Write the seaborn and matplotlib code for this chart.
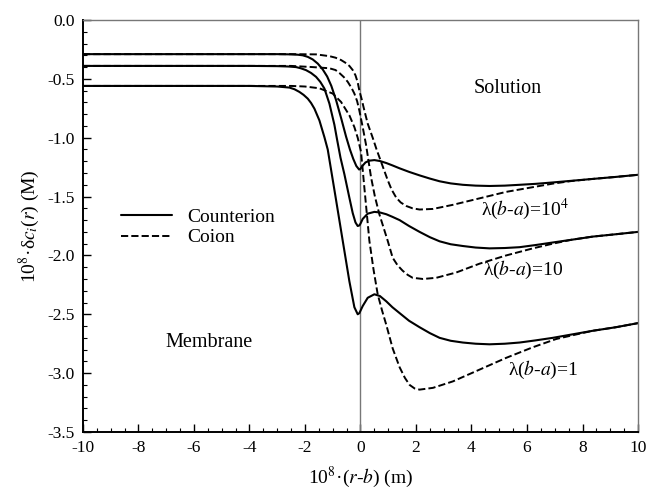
import matplotlib
matplotlib.use("Agg")
import matplotlib.pyplot as plt
from matplotlib.lines import Line2D
from matplotlib.ticker import MultipleLocator, FormatStrFormatter
import seaborn as sns

# counterion (solid) curves
cnt_1e4_x = [-10, -6, -4, -3, -2.5, -2.25, -2.08, -1.9, -1.72, -1.54, -1.36, -1.2, -1.05,
             -0.88, -0.69, -0.52, -0.38, -0.26, -0.15, -0.05, 0.0, 0.05, 0.18, 0.32, 0.5,
             0.7, 0.93, 1.15, 1.41, 1.75, 2.13, 2.5, 2.85, 3.25, 3.69, 4.15, 4.65, 5.2,
             5.73, 6.3, 6.93, 7.6, 8.37, 9.2, 10]
cnt_1e4_y = [-0.29, -0.29, -0.29, -0.29, -0.292, -0.295, -0.30, -0.313, -0.335, -0.37,
             -0.42, -0.48, -0.56, -0.68, -0.84, -0.99, -1.10, -1.18, -1.24, -1.27, -1.265,
             -1.245, -1.21, -1.195, -1.19, -1.198, -1.215, -1.235, -1.26, -1.29, -1.32,
             -1.347, -1.37, -1.388, -1.40, -1.407, -1.41, -1.407, -1.40, -1.392, -1.38,
             -1.366, -1.35, -1.333, -1.315]

cnt_10_x = [-10, -6, -4, -3, -2.6, -2.32, -2.15, -1.96, -1.78, -1.60, -1.45, -1.30, -1.12,
            -0.94, -0.84, -0.72, -0.58, -0.40, -0.28, -0.18, -0.10, -0.04, 0.0, 0.08, 0.26,
            0.5, 0.7, 0.93, 1.15, 1.41, 1.75, 2.13, 2.5, 2.85, 3.25, 3.69, 4.15, 4.65, 5.2,
            5.73, 6.3, 6.93, 7.6, 8.37, 9.2, 10]
cnt_10_y = [-0.39, -0.39, -0.39, -0.392, -0.395, -0.40, -0.41, -0.426, -0.45, -0.483,
            -0.525, -0.582, -0.71, -0.89, -1.02, -1.17, -1.31, -1.51, -1.64, -1.72, -1.75,
            -1.745, -1.73, -1.69, -1.645, -1.63, -1.635, -1.65, -1.672, -1.70, -1.75, -1.80,
            -1.845, -1.88, -1.905, -1.92, -1.933, -1.94, -1.937, -1.93, -1.912, -1.89,
            -1.867, -1.84, -1.82, -1.80]

cnt_1_x = [-10, -6, -4, -3, -2.56, -2.38, -2.20, -2.05, -1.90, -1.78, -1.66, -1.48, -1.30,
           -1.18, -0.90, -0.64, -0.40, -0.22, -0.10, -0.04, 0.0, 0.08, 0.26, 0.5, 0.7,
           0.93, 1.15, 1.41, 1.75, 2.13, 2.5, 2.85, 3.25, 3.69, 4.15, 4.65, 5.2, 5.73, 6.3,
           6.93, 7.6, 8.37, 9.2, 10]
cnt_1_y = [-0.56, -0.56, -0.56, -0.565, -0.574, -0.588, -0.611, -0.636, -0.668, -0.705,
           -0.753, -0.853, -0.995, -1.10, -1.50, -1.875, -2.22, -2.44, -2.50, -2.49, -2.47,
           -2.43, -2.36, -2.33, -2.345, -2.39, -2.44, -2.49, -2.555, -2.61, -2.66, -2.70,
           -2.725, -2.74, -2.75, -2.755, -2.75, -2.74, -2.722, -2.70, -2.672, -2.64, -2.61,
           -2.575]

# coion (dashed) curves
coi_1e4_x = [-10, -6, -4, -2.5, -1.6, -1.12, -0.90, -0.70, -0.55, -0.40, -0.28, -0.18,
             -0.10, -0.04, 0.04, 0.11, 0.26, 0.44, 0.58, 0.75, 0.98, 1.12, 1.29, 1.45,
             1.65, 1.88, 2.13, 2.61, 3.33, 4.29, 5.25, 6.21, 6.93, 7.6, 8.37, 9.2, 10]
coi_1e4_y = [-0.29, -0.29, -0.29, -0.29, -0.292, -0.307, -0.32, -0.34, -0.362, -0.39,
             -0.425, -0.47, -0.53, -0.60, -0.67, -0.74, -0.88, -1.00, -1.10, -1.21, -1.36,
             -1.44, -1.51, -1.55, -1.58, -1.60, -1.61, -1.605, -1.57, -1.515, -1.46, -1.42,
             -1.39, -1.368, -1.35, -1.333, -1.315]

coi_10_x = [-10, -6, -4, -2.5, -1.72, -1.12, -0.90, -0.76, -0.60, -0.46, -0.32, -0.22,
            -0.12, -0.04, 0.08, 0.2, 0.38, 0.52, 0.68, 0.98, 1.16, 1.34, 1.52, 1.70, 1.88,
            2.25, 2.73, 3.45, 4.29, 5.25, 6.21, 6.93, 7.6, 8.37, 9.2, 10]
coi_10_y = [-0.39, -0.39, -0.39, -0.39, -0.40, -0.41, -0.425, -0.45, -0.485, -0.525,
            -0.578, -0.625, -0.69, -0.77, -0.91, -1.06, -1.335, -1.50, -1.65, -1.875,
            -2.02, -2.085, -2.13, -2.165, -2.19, -2.20, -2.19, -2.145, -2.07, -2.00, -1.94,
            -1.90, -1.867, -1.84, -1.82, -1.80]

coi_1_x = [-10, -6, -4, -2.5, -2.0, -1.48, -1.0, -0.70, -0.40, -0.22, -0.10, 0.02, 0.15,
           0.32, 0.47, 0.62, 0.78, 0.93, 1.16, 1.41, 1.60, 1.77, 1.95, 2.13, 2.61, 3.33,
           4.29, 5.25, 6.21, 7.05, 7.89, 8.37, 9.2, 10]
coi_1_y = [-0.56, -0.56, -0.56, -0.56, -0.565, -0.58, -0.625, -0.696, -0.81, -0.91, -1.00,
           -1.12, -1.45, -1.875, -2.12, -2.33, -2.47, -2.59, -2.79, -2.95, -3.04, -3.10,
           -3.13, -3.14, -3.125, -3.07, -2.97, -2.87, -2.78, -2.71, -2.665, -2.64, -2.61,
           -2.575]

curve_labels = ["λ($\\it{b}$-$\\it{a}$)=10$^{4}$", "λ($\\it{b}$-$\\it{a}$)=10",
                "λ($\\it{b}$-$\\it{a}$)=1"]
legend_labels = ["Counterion", "Coion"]

sns.set_theme(style="ticks")
plt.rcParams.update({
    "font.family": ["Liberation Serif", "DejaVu Serif"],
    "mathtext.fontset": "stix",
    "axes.unicode_minus": False,
    "xtick.direction": "in",
    "ytick.direction": "in",
    "xtick.color": "black",
    "ytick.color": "black",
    "axes.edgecolor": "black",
    "text.color": "black",
    "axes.labelcolor": "black",
})

fig = plt.figure(figsize=(6.48, 4.94), dpi=100)
ax = fig.add_axes([0.128, 0.1255, 0.8566, 0.834])

solid = [(cnt_1e4_x, cnt_1e4_y), (cnt_10_x, cnt_10_y), (cnt_1_x, cnt_1_y)]
dashed = [(coi_1e4_x, coi_1e4_y), (coi_10_x, coi_10_y), (coi_1_x, coi_1_y)]

for xs, ys in dashed:
    sns.lineplot(x=xs, y=ys, ax=ax, color="black", linewidth=1.4, linestyle="--",
                 estimator=None, sort=False)
for xs, ys in solid:
    sns.lineplot(x=xs, y=ys, ax=ax, color="black", linewidth=1.5, linestyle="-",
                 estimator=None, sort=False)

ax.axvline(0, color="#777777", linewidth=1.0, zorder=1)

ax.set_xlim(-10, 10)
ax.set_ylim(-3.5, 0.0)
ax.xaxis.set_major_locator(MultipleLocator(2))
ax.xaxis.set_minor_locator(MultipleLocator(0.5))
ax.yaxis.set_major_locator(MultipleLocator(0.5))
ax.yaxis.set_minor_locator(MultipleLocator(0.1))
ax.yaxis.set_major_formatter(FormatStrFormatter("%.1f"))
ax.tick_params(which="major", length=6, width=1, labelsize=12.5, pad=6)
ax.tick_params(which="minor", length=3, width=0.8)

for side in ["left", "bottom"]:
    ax.spines[side].set_linewidth(1.4)
    ax.spines[side].set_color("black")
for side in ["top", "right"]:
    ax.spines[side].set_visible(True)
    ax.spines[side].set_linewidth(1.0)
    ax.spines[side].set_color("#777777")

ax.set_xlabel("10$^{8}$·($r$-$b$) (m)", fontsize=14, labelpad=6)
ax.set_ylabel("10$^{8}$·δ$c_{i}$($r$) (M)", fontsize=14, labelpad=4)

ax.text(5.3, -0.58, "Solution", fontsize=14.5, ha="center", va="center")
ax.text(-5.44, -2.74, "Membrane", fontsize=14.5, ha="center", va="center")
ax.text(4.36, -1.61, curve_labels[0], fontsize=14, ha="left", va="center")
ax.text(4.40, -2.12, curve_labels[1], fontsize=14, ha="left", va="center")
ax.text(5.30, -2.97, curve_labels[2], fontsize=14, ha="left", va="center")

handles = [Line2D([], [], color="black", linewidth=1.5, linestyle="-"),
           Line2D([], [], color="black", linewidth=1.4, linestyle="--")]
ax.legend(handles, legend_labels, loc="center left", bbox_to_anchor=(0.055, 0.497),
          frameon=False, fontsize=14, handlelength=2.6, handletextpad=0.8,
          labelspacing=0.15, borderaxespad=0)

fig.savefig("out.png", dpi=100)
